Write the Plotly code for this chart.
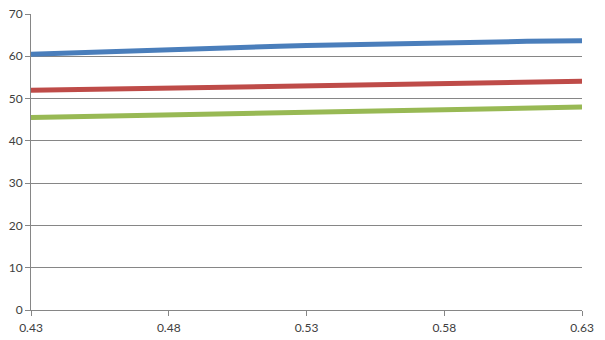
import plotly.graph_objects as go

x = [0.43, 0.44, 0.45, 0.46, 0.47, 0.48, 0.49, 0.50, 0.51, 0.52, 0.53,
     0.54, 0.55, 0.56, 0.57, 0.58, 0.59, 0.60, 0.61, 0.62, 0.63]

blue = [60.50, 60.74, 60.98, 61.20, 61.42, 61.63, 61.83, 62.02, 62.20, 62.37, 62.53,
        62.69, 62.84, 62.98, 63.10, 63.23, 63.34, 63.44, 63.54, 63.62, 63.70]
red = [51.95, 52.05, 52.14, 52.24, 52.33, 52.43, 52.53, 52.62, 52.72, 52.82, 52.93,
       53.06, 53.19, 53.32, 53.45, 53.56, 53.66, 53.77, 53.87, 53.97, 54.07]
green = [45.55, 45.69, 45.84, 45.98, 46.13, 46.27, 46.41, 46.55, 46.68, 46.80, 46.90,
         46.99, 47.07, 47.15, 47.24, 47.34, 47.46, 47.59, 47.72, 47.86, 48.00]

xticks = [0.43, 0.48, 0.53, 0.58, 0.63]
xticklabels = ["0.43", "0.48", "0.53", "0.58", "0.63"]
yticks = [0, 10, 20, 30, 40, 50, 60, 70]

colors = ["#4A7EBB", "#BE4B48", "#98B954"]

fig = go.Figure()
for series, c in zip([blue, red, green], colors):
    fig.add_trace(go.Scatter(x=x, y=series, mode="lines",
                             line=dict(color=c, width=5), showlegend=False,
                             hoverinfo="skip"))

fig.update_layout(
    width=605, height=340,
    margin=dict(l=31, r=23, t=14, b=30),
    paper_bgcolor="white", plot_bgcolor="white",
    font=dict(family="Lato, Open Sans, sans-serif", size=12, color="#404040"),
)
fig.update_xaxes(
    range=[0.43, 0.63], tickvals=xticks, ticktext=xticklabels,
    showgrid=False, zeroline=False, automargin=False,
    showline=True, linecolor="#868686", linewidth=1,
    ticks="outside", ticklen=5, tickcolor="#868686",
    ticklabelstandoff=2,
)
fig.update_yaxes(
    range=[0, 70], tickvals=yticks,
    showgrid=True, gridcolor="#868686", gridwidth=1, zeroline=False, automargin=False,
    showline=True, linecolor="#868686", linewidth=1,
    ticks="outside", ticklen=5, tickcolor="#868686",
)

fig.write_html("out.html")
